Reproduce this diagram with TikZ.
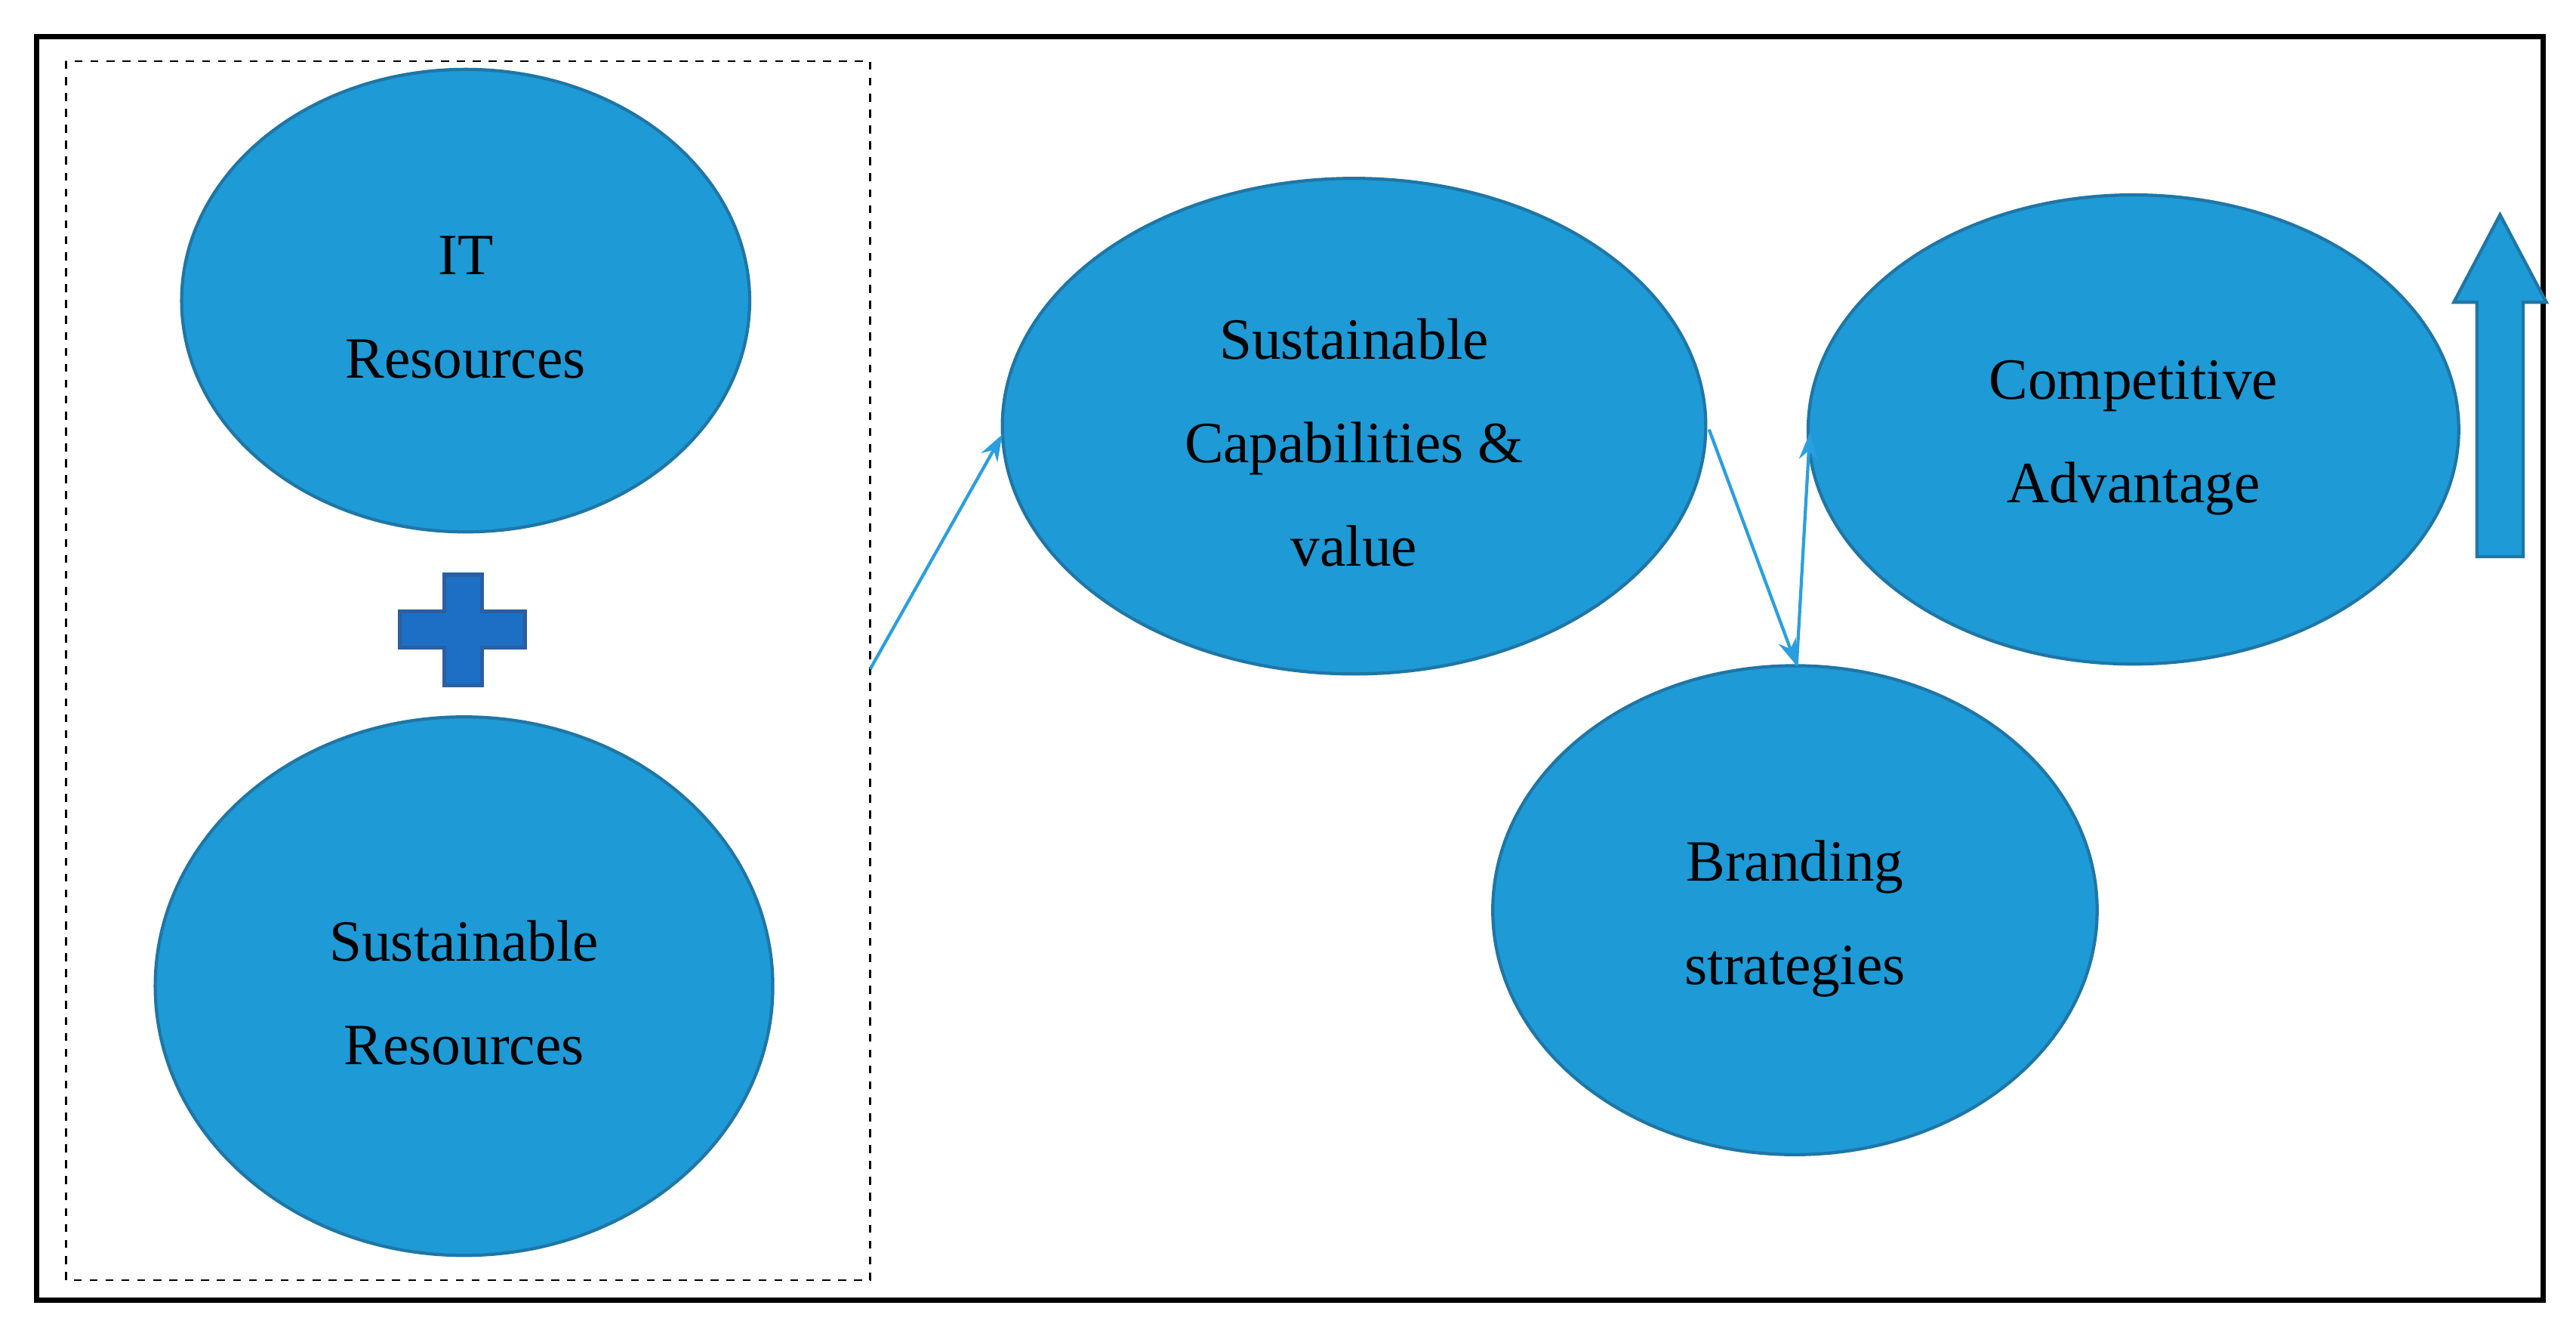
\documentclass[tikz,border=0pt]{standalone}
\usepackage{fontspec}
\setmainfont{Liberation Serif}
\usetikzlibrary{arrows.meta}
\definecolor{ellfill}{HTML}{1E9AD6}
\definecolor{elldraw}{HTML}{1F76A6}
\definecolor{plusfill}{HTML}{1C6FC4}
\definecolor{plusdraw}{HTML}{2A5FA0}
\definecolor{conn}{HTML}{2A9FDF}
\begin{document}
\begin{tikzpicture}[x=0.02187cm,y=-0.02187cm,
  ell/.style={ellipse,fill=ellfill,draw=elldraw,line width=1.2pt,align=center,font=\fontsize{22}{39}\selectfont},
  con/.style={conn,line width=1.2pt,-{Stealth[length=10pt,width=7pt]}}]
\useasboundingbox (0,0) rectangle (1560,805);
\draw[line width=2pt] (22,22) rectangle (1540,787);
\draw[dashed,line width=0.8pt] (40,37) rectangle (527,775);
\coordinate (dbox) at (527,405);
\path[fill=ellfill,draw=elldraw,line width=1.2pt] (282,182) ellipse [x radius=172,y radius=140];
\node[align=center,font=\fontsize{22}{39}\selectfont] (it) at (282,186) {IT\\Resources};
\path[fill=ellfill,draw=elldraw,line width=1.2pt] (281,597) ellipse [x radius=187,y radius=163];
\node[align=center,font=\fontsize{22}{39}\selectfont] (sr) at (281,601) {Sustainable\\Resources};
\path[fill=ellfill,draw=elldraw,line width=1.2pt] (820,258) ellipse [x radius=213,y radius=150];
\node[align=center,font=\fontsize{22}{39}\selectfont] (sc) at (820,268) {Sustainable\\Capabilities \&\\value};
\path[fill=ellfill,draw=elldraw,line width=1.2pt] (1292,260) ellipse [x radius=197,y radius=142];
\node[align=center,font=\fontsize{22}{39}\selectfont] (ca) at (1292,265) {Competitive\\Advantage};
\path[fill=ellfill,draw=elldraw,line width=1.2pt] (1087,551) ellipse [x radius=183,y radius=148];
\node[align=center,font=\fontsize{22}{39}\selectfont] (bs) at (1087,556) {Branding\\strategies};
\coordinate (scL) at (607,263);
\coordinate (scR) at (1035,260);
\coordinate (bsT) at (1088,403);
\coordinate (caL) at (1096,262);
\draw[con] (dbox) -- (scL);
\draw[con] (scR) -- (bsT);
\draw[con] (bsT) -- (caL);
\draw[fill=plusfill,draw=plusdraw,line width=1.5pt]
 (269,348) -- (292,348) -- (292,370) -- (318,370) -- (318,392) -- (292,392) -- (292,415) -- (269,415) -- (269,392) -- (242,392) -- (242,370) -- (269,370) -- cycle;
\draw[fill=ellfill,draw=elldraw,line width=1.2pt]
 (1500,337) -- (1500,183) -- (1486,183) -- (1514,130) -- (1542,183) -- (1528,183) -- (1528,337) -- cycle;
\end{tikzpicture}
\end{document}
